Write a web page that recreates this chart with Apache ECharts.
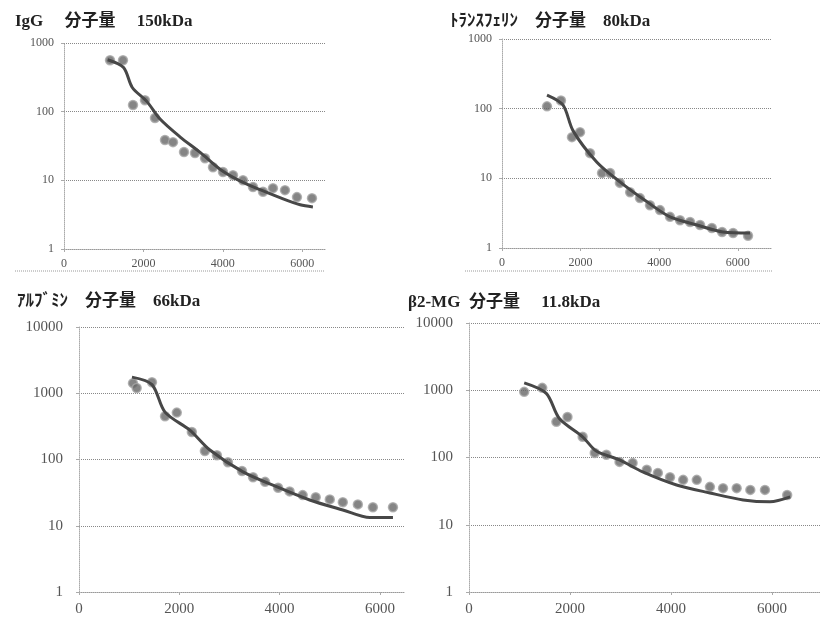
<!DOCTYPE html>
<html>
<head>
<meta charset="utf-8">
<script src="https://cdn.jsdelivr.net/npm/echarts@6/dist/echarts.min.js"></script>
<style>html,body{margin:0;padding:0;background:#fff}#c{width:820px;height:618px}</style>
</head>
<body>
<div id="c"></div>
<script>
// Panel titles
const titles = ['IgG\u3000 分子量\u3000 150kDa', '\uFF84\uFF97\uFF9D\uFF7D\uFF8C\uFF6A\uFF98\uFF9D\u3000分子量\u300080kDa', '\uFF71\uFF99\uFF8C\uFF9E\uFF90\uFF9D\u3000分子量\u300066kDa', '\u03B22-MG  分子量\u3000 11.8kDa'];
const xTicks = [0, 2000, 4000, 6000];

// IgG
const iggX = [1159, 1486, 1738, 2040, 2292, 2544, 2746, 3023, 3300, 3552, 3753, 4005, 4257, 4509, 4761, 5013, 5264, 5567, 5869, 6247];
const iggY = [562, 560, 125, 147, 81, 38.6, 36, 25.8, 25, 21, 15.5, 13.2, 11.9, 10, 8.0, 6.8, 7.7, 7.2, 5.7, 5.5];
const iggFitX = [1100, 1500, 1720, 2090, 2420, 2920, 3430, 3930, 4430, 4940, 5440, 5950, 6270];
const iggFitY = [570, 440, 225, 140, 78, 43, 25.5, 14.5, 9.8, 7.3, 5.6, 4.4, 4.1];

// Transferrin
const trfX = [1145, 1500, 1780, 1985, 2240, 2545, 2750, 3000, 3260, 3510, 3765, 4020, 4275, 4530, 4785, 5040, 5340, 5600, 5880, 6260];
const trfY = [108, 131, 39, 46, 23, 11.9, 11.9, 8.6, 6.3, 5.2, 4.1, 3.5, 2.8, 2.5, 2.36, 2.14, 1.94, 1.7, 1.64, 1.5];
const trfFitX = [1145, 1550, 1810, 2415, 3000, 3690, 4275, 4960, 5620, 6310];
const trfFitY = [157, 113, 48, 17, 8.9, 4.6, 2.8, 2.14, 1.7, 1.64];

// Albumin
const albX = [1076, 1150, 1455, 1715, 1950, 2250, 2510, 2750, 2970, 3250, 3470, 3710, 3970, 4200, 4460, 4720, 5000, 5260, 5560, 5860, 6260];
const albY = [1420, 1200, 1470, 450, 510, 260, 134, 116, 91, 67, 54, 46, 37.5, 33, 29, 27, 25, 22.7, 21, 19, 19];
const albFitX = [1056, 1455, 1715, 2210, 2610, 3270, 3950, 4600, 5260, 5800, 6260];
const albFitY = [1750, 1350, 519, 277, 139, 65, 38.5, 24.5, 17.3, 13.3, 13.3];

// beta2-MG
const b2mX = [1093, 1450, 1730, 1950, 2250, 2490, 2720, 2980, 3240, 3520, 3740, 3980, 4240, 4510, 4770, 5030, 5300, 5570, 5860, 6300];
const b2mY = [947, 1086, 339, 400, 203, 117, 110, 86, 83, 66, 59, 51, 46.5, 46.5, 36.6, 35, 35, 33, 33, 27.7];
const b2mFitX = [1093, 1530, 1790, 2250, 2520, 2980, 3440, 4110, 4770, 5430, 5960, 6360];
const b2mFitY = [1290, 900, 380, 203, 125, 92, 61, 39, 29.7, 23.4, 21.9, 25.9];

const panels = [
  {x: iggX, y: iggY, fx: iggFitX, fy: iggFitY, grid: {left: 64, top: 43, width: 261, height: 206}, xMax: 6575, yMax: 1000, fs: 12, ym: 10, title: [15, 13]},
  {x: trfX, y: trfY, fx: trfFitX, fy: trfFitY, grid: {left: 502, top: 39, width: 270, height: 209}, xMax: 6870, yMax: 1000, fs: 12, ym: 10, title: [450, 13]},
  {x: albX, y: albY, fx: albFitX, fy: albFitY, grid: {left: 79, top: 327, width: 326, height: 265}, xMax: 6500, yMax: 10000, fs: 15, ym: 16, title: [17, 293]},
  {x: b2mX, y: b2mY, fx: b2mFitX, fy: b2mFitY, grid: {left: 469, top: 323, width: 351, height: 269}, xMax: 6950, yMax: 10000, fs: 15, ym: 16, title: [408, 294]}
];

const FONT = "'Liberation Serif','Noto Sans CJK JP',serif";
const pair = (xs, ys) => xs.map((v, i) => [v, ys[i]]);

const option = {
  animation: false,
  backgroundColor: '#fff',
  title: panels.map((p, i) => ({
    text: titles[i], left: p.title[0], top: p.title[1], padding: 0,
    textStyle: {fontFamily: FONT, fontSize: 17, fontWeight: 'bold', color: '#222'}
  })),
  grid: panels.map(p => p.grid),
  xAxis: panels.map((p, i) => ({
    type: 'value', gridIndex: i, min: 0, max: p.xMax, interval: 2000,
    axisLine: {show: true, lineStyle: {color: '#999', type: 'dotted'}},
    axisTick: {show: true, length: 3, lineStyle: {color: '#aaa'}},
    splitLine: {show: false},
    axisLabel: {
      fontFamily: FONT, fontSize: p.fs, color: '#555', margin: i < 2 ? 9 : 10,
      showMaxLabel: false,
      formatter: v => (xTicks.indexOf(v) >= 0 ? String(v) : '')
    }
  })),
  yAxis: panels.map((p, i) => ({
    type: 'log', logBase: 10, gridIndex: i, min: 1, max: p.yMax,
    axisLine: {show: true, lineStyle: {color: '#aaa', type: 'dotted'}},
    axisTick: {show: true, length: 3, lineStyle: {color: '#aaa'}},
    splitLine: {show: true, lineStyle: {color: '#888', type: 'dotted'}},
    axisLabel: {fontFamily: FONT, fontSize: p.fs, color: '#555', margin: p.ym, formatter: v => String(Math.round(v))}
  })),
  series: [].concat(...panels.map((p, i) => [
    {
      type: 'scatter', xAxisIndex: i, yAxisIndex: i, data: pair(p.x, p.y),
      symbol: 'circle', symbolSize: 9,
      itemStyle: {color: '#666', borderColor: '#a8a8a8', borderWidth: 1.5}
    },
    {
      type: 'line', xAxisIndex: i, yAxisIndex: i, data: pair(p.fx, p.fy),
      smooth: 0.3, symbol: 'none',
      lineStyle: {color: '#474747', width: 3}
    }
  ])),
  graphic: [
    {type: 'line', shape: {x1: 15, y1: 271, x2: 325, y2: 271}, style: {stroke: '#999', lineDash: [1, 1], lineWidth: 1}},
    {type: 'line', shape: {x1: 465, y1: 271, x2: 772, y2: 271}, style: {stroke: '#999', lineDash: [1, 1], lineWidth: 1}}
  ]
};

const chart = echarts.init(document.getElementById('c'), null, {renderer: 'canvas'});
chart.setOption(option);
</script>
</body>
</html>
